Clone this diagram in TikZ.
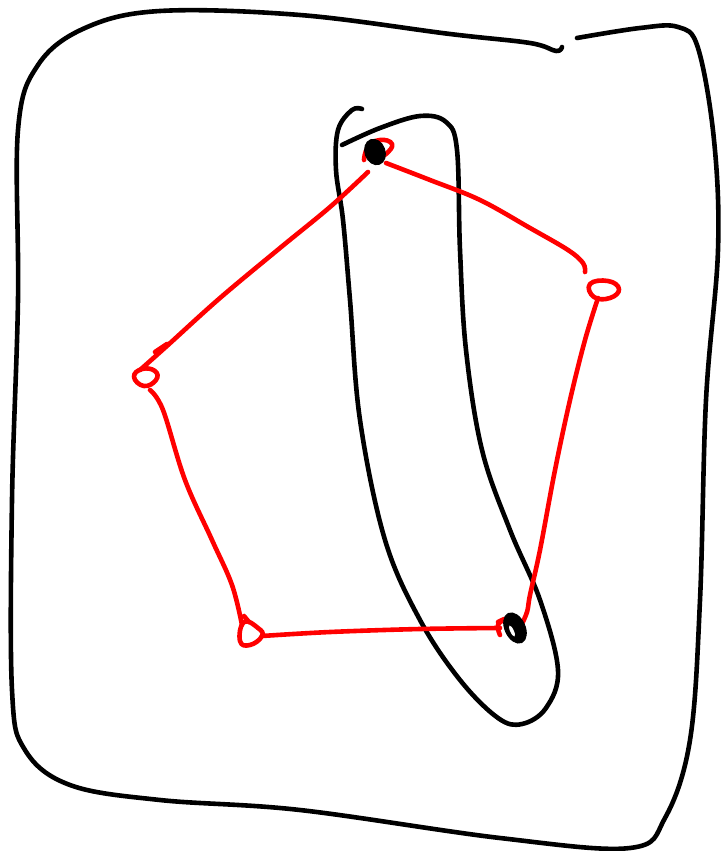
\documentclass[tikz,border=0pt]{standalone}
\begin{document}
\begin{tikzpicture}[x=1pt,y=-1pt,
  blk/.style={draw=black,line width=4.6pt,line cap=round,line join=round},
  rd/.style={draw=red,line width=4.6pt,line cap=round,line join=round},
  vtx/.style={fill=black,draw=black,line width=1pt}]
\useasboundingbox (0,0) rectangle (722,851);
% vertices
\coordinate (T) at (375,152);
\coordinate (R) at (603,290);
\coordinate (L) at (145,377);
\coordinate (BL) at (250,634);
\coordinate (BR) at (515,628);
% outer boundary
\draw[blk] plot[smooth,tension=0.6] coordinates {(562,47) (556,51) (530,43) (450,34) (300,15) (160,11) (85,28) (38,65) (18,130) (18,300) (12,500) (12,690) (25,750) (70,785) (160,800) (300,810) (500,838) (630,848) (665,818) (690,740) (700,600) (706,400) (718,250) (714,140) (698,48) (678,27) (640,28) (577,38)};
% inner loop
\draw[blk] plot[smooth,tension=0.6] coordinates {(362,109) (352,110) (338,130) (336,170) (343,220) (350,300) (360,420) (385,540) (420,620) (460,680) (498,718) (522,724) (546,708) (558,670) (540,600) (510,530) (482,450) (466,350) (460,250) (457,150) (446,122) (420,116) (380,128) (342,145)};
% red edges
\draw[rd] plot[smooth,tension=0.6] coordinates {(386,163) (430,180) (480,200) (530,228) (568,250) (583,263) (585,272)};
\draw[rd] plot[smooth,tension=0.6] coordinates {(598,298) (585,340) (570,400) (555,470) (540,550) (530,595) (527,612) (520,628)};
\draw[rd] plot[smooth,tension=0.6] coordinates {(500,628) (420,629) (330,632) (262,636)};
\draw[rd] plot[smooth,tension=0.6] coordinates {(242,625) (232,585) (212,540) (185,480) (163,410) (150,390)};
\draw[rd] plot[smooth,tension=0.6] coordinates {(140,370) (168,345) (220,298) (280,248) (330,207) (368,172)};
\draw[rd] (155,352) -- (167,344);
% red loops
\draw[rd] plot[smooth cycle,tension=0.8] coordinates {(590,284) (608,281) (619,289) (610,298) (594,297)};
\draw[rd] plot[smooth cycle,tension=0.8] coordinates {(134,377) (142,369) (155,371) (156,380) (144,386)};
\draw[rd] plot[smooth cycle,tension=0.8] coordinates {(244,622) (258,628) (262,636) (250,645) (240,641)};
\draw[rd] (244,616) -- (249,622);
\draw[rd] plot[smooth,tension=0.8] coordinates {(364,160) (368,147) (380,140) (392,144) (386,154) (375,160)};
\draw[rd] plot[smooth,tension=0.8] coordinates {(500,635) (498,625) (505,619) (498,622)};
% black dots
\fill[vtx] (T) ellipse [x radius=10pt, y radius=13pt, rotate=20];
\fill[vtx] (BR) ellipse [x radius=10pt, y radius=16pt, rotate=25];
\fill[white] (512,631) ellipse [x radius=1.8pt, y radius=6pt, rotate=25];
\end{tikzpicture}
\end{document}
